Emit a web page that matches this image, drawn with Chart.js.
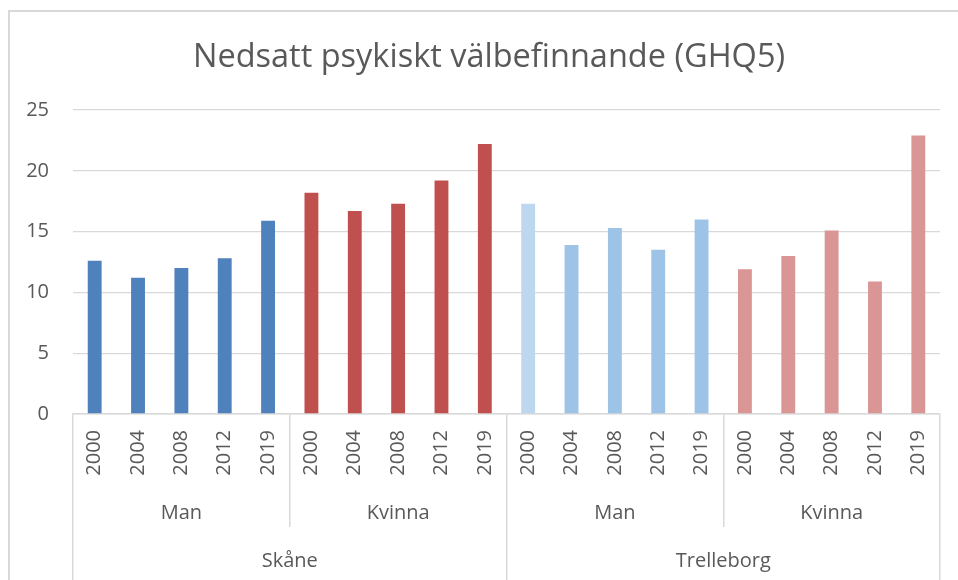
<!DOCTYPE html>
<html lang="sv">
<head>
  <meta charset="UTF-8">
  <title>Nedsatt psykiskt välbefinnande (GHQ5)</title>
  <script src="https://cdn.jsdelivr.net/npm/chart.js"></script>
  <style>
body {
  margin: 0;
  background: #fff;
  overflow: hidden;
}
.frame {
  position: absolute;
  left: 8px;
  top: 10px;
  width: 958px;
  height: 600px;
  border-left: 2px solid #d9d9d9;
  border-top: 2px solid #d9d9d9;
}
canvas {
  display: block;
}
  </style>
</head>
<body>
  <div class="frame">
    <canvas id="ghq" width="958" height="600"></canvas>
  </div>
  <script>
    // values (percent)
    var years = ['2000', '2004', '2008', '2012', '2019'];
    var skaneMan = [12.6, 11.2, 12.0, 12.8, 15.9];
    var skaneKvinna = [18.2, 16.7, 17.3, 19.2, 22.2];
    var trelleborgMan = [17.3, 13.9, 15.3, 13.5, 16.0];
    var trelleborgKvinna = [11.9, 13.0, 15.1, 10.9, 22.9];
    var sexLabels = ['Man', 'Kvinna', 'Man', 'Kvinna'];
    var regionLabels = ['Skåne', 'Trelleborg'];

    var textColor = '#595959';
    var lineColor = '#d9d9d9';
    var font = 'Open Sans';

    // one colour per bar, per group
    var barColors = [].concat(
      ['#4f81bd', '#4f81bd', '#4f81bd', '#4f81bd', '#4f81bd'],
      ['#c0504d', '#c0504d', '#c0504d', '#c0504d', '#c0504d'],
      ['#bdd7ee', '#9dc3e6', '#9dc3e6', '#9dc3e6', '#9dc3e6'],
      ['#da9694', '#da9694', '#da9694', '#da9694', '#da9694']
    );

    var labels = [].concat(years, years, years, years);
    var values = [].concat(skaneMan, skaneKvinna, trelleborgMan, trelleborgKvinna);

    var ctx = document.getElementById('ghq').getContext('2d');
    var chart = new Chart(ctx, {
      type: 'bar',
      data: {
        labels: labels,
        datasets: [{
          data: values,
          backgroundColor: barColors,
          borderWidth: 0,
          categoryPercentage: 1,
          barPercentage: 0.32
        }]
      },
      options: {
        responsive: false,
        animation: false,
        layout: { padding: 0 },
        plugins: {
          legend: { display: false },
          tooltip: { enabled: false },
          title: {
            display: true,
            text: 'Nedsatt psykiskt välbefinnande (GHQ5)',
            color: textColor,
            font: { family: font, size: 32.5, weight: 'normal' },
            padding: { top: 26, bottom: 33 }
          }
        },
        scales: {
          y: {
            min: 0,
            max: 25,
            ticks: {
              stepSize: 5,
              color: textColor,
              font: { family: font, size: 20 },
              padding: 24
            },
            grid: { color: lineColor, lineWidth: 1.3, drawTicks: false },
            border: { display: false },
            afterFit: function (scale) { scale.width = 63; }
          },
          // empty right-hand strip so the title stays centred on the whole frame
          yRight: {
            position: 'right',
            min: 0,
            max: 25,
            ticks: { display: false },
            grid: { display: false },
            border: { display: false },
            afterFit: function (scale) { scale.width = 28; }
          },
          x: {
            position: 'bottom',
            weight: 0,
            offset: true,
            ticks: {
              color: textColor,
              font: { family: font, size: 20 },
              minRotation: 90,
              maxRotation: 90,
              autoSkip: false,
              padding: -97
            },
            grid: {
              offset: true,
              drawOnChartArea: false,
              drawTicks: true,
              tickLength: 113,
              lineWidth: 1.5,
              color: function (c) {
                // only the group boundaries get a line
                if (c.index === undefined || c.index % 5 === 0) return lineColor;
                return 'rgba(0,0,0,0)';
              }
            },
            border: { display: true, color: lineColor, width: 1.5 },
            afterFit: function (scale) { scale.height = 78; }
          },
          x2: {
            type: 'category',
            position: 'bottom',
            weight: 1,
            offset: true,
            labels: sexLabels,
            ticks: {
              color: textColor,
              font: { family: font, size: 20 },
              maxRotation: 0,
              autoSkip: false,
              padding: 1
            },
            grid: { display: false },
            border: { display: false },
            afterFit: function (scale) { scale.height = 35; }
          },
          x3: {
            type: 'category',
            position: 'bottom',
            weight: 2,
            offset: true,
            labels: regionLabels,
            ticks: {
              color: textColor,
              font: { family: font, size: 20 },
              maxRotation: 0,
              autoSkip: false,
              padding: -36
            },
            grid: {
              offset: true,
              drawOnChartArea: false,
              drawTicks: true,
              tickLength: 58,
              lineWidth: 1.5,
              color: lineColor
            },
            border: { display: false },
            afterFit: function (scale) { scale.height = 85; }
          }
        }
      }
    });
  </script>
</body>
</html>
